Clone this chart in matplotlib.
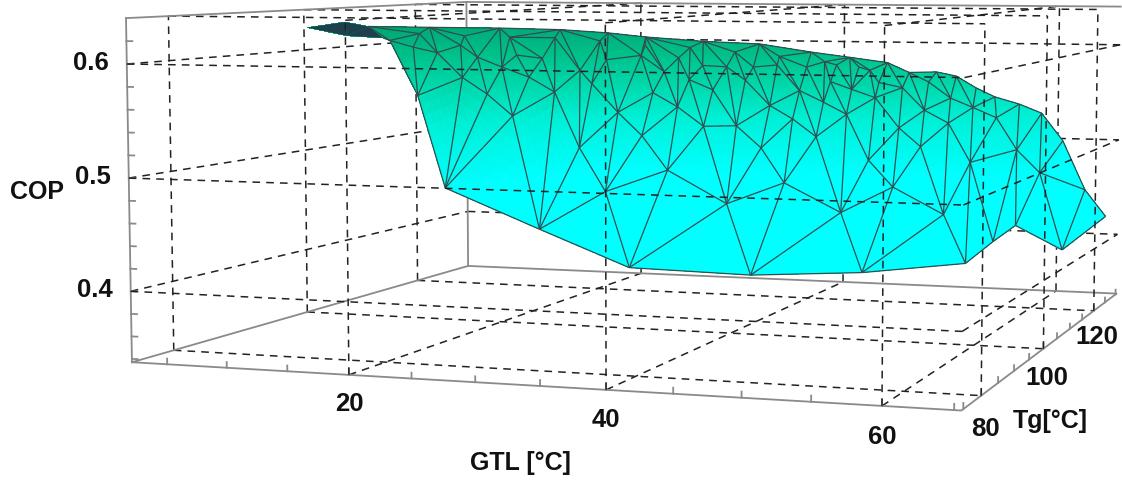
import numpy as np
import matplotlib
matplotlib.use("Agg")
import matplotlib.pyplot as plt
from matplotlib.colors import LinearSegmentedColormap
from matplotlib.path import Path
from matplotlib.tri import Triangulation
from mpl_toolkits.mplot3d import proj3d
from mpl_toolkits.mplot3d.art3d import Line3DCollection

plt.rcParams['font.family'] = ['Liberation Sans', 'DejaVu Sans']

gtl_lim = (2, 65.5)
tg_lim = (74.5, 130.5)
cop_lim = (0.337, 0.64)
gtl_major = [20, 40, 60]
tg_major = [80, 100, 120]
cop_major = [0.4, 0.5, 0.6]
gtl_minor = [5, 10, 15, 20, 25, 30, 35, 40, 45, 50, 55, 60, 65]
tg_minor = [75, 80, 85, 90, 95, 100, 105, 110, 115, 120, 125, 130]
cop_minor = [0.34, 0.36, 0.38, 0.40, 0.42, 0.44, 0.46, 0.48, 0.50, 0.52, 0.54, 0.56, 0.58, 0.60, 0.62]

# mesh corners: front edge (10), back edge (22), then the inside
gtl = [25.0, 32.5, 39.5, 48.7, 56.9, 64.3, 65.0, 64.8, 64.8, 65.3,
       4.6, 4.3, 4.2, 4.4, 8.1, 14.2, 19.0, 22.7, 28.3, 33.7, 38.6, 42.2, 45.7, 47.7, 50.2, 52.0, 53.8, 55.5, 57.7, 59.7, 61.6, 63.6,
       4.3, 4.2, 4.2, 9.4, 4.3, 5.6, 10.1, 14.5, 18.9, 23.3, 27.6, 32.0, 36.2, 40.4, 44.7,
       4.3, 5.3, 6.4, 9.5, 12.8, 10.8, 14.8, 19.1, 16.1, 19.7, 12.7, 15.3, 26.7, 32.1, 21.9, 19.7, 26.3, 30.1, 34.8, 27.7, 30.9, 34.5, 37.3,
       29.9, 32.7, 34.9, 38.7, 41.5, 40.9, 45.1, 42.0, 42.9, 45.6, 44.6, 40.2, 42.2, 44.4,
       46.9, 50.6, 50.3, 51.5, 53.9, 46.2, 48.3, 50.1, 51.5, 54.3, 53.5, 58.3, 59.6, 57.2, 54.9, 52.9, 61.4, 64.3,
       21.1, 23.7, 27.3, 27.1, 30.0, 32.3, 34.7, 36.6, 39.2, 41.6, 43.6]
tg = [80, 80, 80, 80, 80, 80, 85.1, 93.0, 109.9, 125.8,
      96.0, 102.8, 107.0, 118.1, 125, 125, 125, 125, 125, 125, 125, 125, 125, 125, 125, 125, 125, 125, 125, 125, 125, 125,
      103.2, 109.7, 110.9, 106.0, 116.3, 122.7, 122.9, 123.2, 123.3, 123.4, 123.5, 123.2, 123.2, 123.3, 122.9,
      115.1, 117.8, 120.3, 117.4, 115.5, 111.7, 108.3, 104.2, 114.0, 111.4, 118.8, 118.6, 100.6, 93.2, 114.4, 116.9, 109.7, 105.7, 99.5, 114.2, 111.8, 108.5, 108.8,
      117.2, 115.6, 117.8, 113.3, 111.0, 104.7, 98.1, 93.5, 115.1, 113.0, 107.8, 116.8, 119.3, 118.4,
      117.1, 111.5, 103.7, 92.4, 98.2, 120.6, 120.7, 122.7, 116.2, 113.5, 107.7, 105.1, 91.9, 118.5, 119.5, 119.6, 108.0, 103.4,
      119.6, 121.4, 121.4, 118.4, 120.3, 120.2, 120.5, 121.4, 121.8, 123.0, 123.2]
cop = [0.493, 0.460, 0.430, 0.428, 0.434, 0.445, 0.456, 0.459, 0.413, 0.425,
       0.624, 0.627, 0.621, 0.616, 0.613, 0.612, 0.609, 0.605, 0.601, 0.599, 0.591, 0.586, 0.581, 0.571, 0.572, 0.568, 0.556, 0.547, 0.540, 0.531, 0.503, 0.453,
       0.613, 0.608, 0.605, 0.552, 0.610, 0.605, 0.604, 0.604, 0.601, 0.597, 0.595, 0.591, 0.587, 0.582, 0.574,
       0.596, 0.589, 0.596, 0.585, 0.576, 0.567, 0.553, 0.535, 0.567, 0.554, 0.587, 0.584, 0.509, 0.477, 0.561, 0.573, 0.536, 0.517, 0.491, 0.553, 0.541, 0.525, 0.526,
       0.565, 0.556, 0.565, 0.543, 0.532, 0.509, 0.484, 0.469, 0.546, 0.536, 0.518, 0.556, 0.564, 0.557,
       0.550, 0.525, 0.501, 0.466, 0.483, 0.563, 0.558, 0.563, 0.539, 0.529, 0.511, 0.500, 0.468, 0.531, 0.540, 0.549, 0.510, 0.494,
       0.583, 0.587, 0.585, 0.572, 0.578, 0.577, 0.577, 0.579, 0.577, 0.579, 0.577]
gtl, tg, cop = np.array(gtl), np.array(tg), np.array(cop)

# corner numbers round the rim of the sheet, and the dark tip at the top left
outline = list(range(10, 32)) + [9, 8, 7, 6, 5, 4, 3, 2, 1, 0, 35, 34, 33, 32]
tip = [[10, 11, 32], [11, 12, 32], [12, 33, 32]]

fig = plt.figure(figsize=(11.22, 4.83), dpi=100)
S = 1103
ax = fig.add_axes([(654 - S/2)/1122, (299 - S/2)/483, S/1122, S/483], projection='3d', computed_zorder=False)
ax.set_proj_type('persp', focal_length=0.439)
ax.view_init(elev=4.8, azim=-71)
ax.set_box_aspect((772, 772, 314))
ax.set_xlim(*gtl_lim)
ax.set_ylim(*tg_lim)
ax.set_zlim(*cop_lim)
ax.set_xticks([])
ax.set_yticks([])
ax.set_zticks([])
ax.set_axis_off()

x0, x1 = gtl_lim
y0, y1 = tg_lim
z0, z1 = cop_lim
DASH = dict(color='#222222', lw=1.1, ls=(0, (5, 4)))
EDGE = dict(color='#8a8a8a', lw=1.3)

# walls behind the surface
for z in cop_major:
    ax.plot([x0, x0], [y0, y1], [z, z], zorder=1, **DASH)
    ax.plot([x0, x1], [y1, y1], [z, z], zorder=1, **DASH)
for t in tg_major:
    ax.plot([x0, x0], [t, t], [z0, z1], zorder=1, **DASH)
    ax.plot([x0, x1], [t, t], [z0, z0], zorder=1, **DASH)
    ax.plot([x0, x1], [t, t], [z1, z1], zorder=1, **DASH)
for g in gtl_major:
    ax.plot([g, g], [y1, y1], [z0, z1], zorder=1, **DASH)
    ax.plot([g, g], [y0, y1], [z0, z0], zorder=1, **DASH)
    ax.plot([g, g], [y0, y1], [z1, z1], zorder=1, **DASH)

# box and ticks
ax.plot([x0, x1, x1, x0, x0], [y0, y0, y1, y1, y0], [z0]*5, zorder=2, **EDGE)
ax.plot([x0, x0], [y0, y0], [z0, z1], zorder=2, **EDGE)
ax.plot([x0, x0], [y1, y1], [z0, z1], zorder=2, **EDGE)
ax.plot([x0, x0, x1], [y0, y1, y1], [z1, z1, z1], zorder=2, **EDGE)
for g in gtl_minor:
    ax.plot([g, g], [y0, y0], [z0, z0 + 0.005], zorder=2, **EDGE)
for t in tg_minor:
    ax.plot([x1, x1], [t, t], [z0, z0 + 0.005], zorder=2, **EDGE)
for z in cop_minor:
    ax.plot([x0, x0 + 0.5], [y0, y0], [z, z], zorder=2, **EDGE)

# triangles as they look on screen, stretched so long upright ones win
fig.canvas.draw()
sx, sy, _ = proj3d.proj_transform(gtl, tg, cop, ax.get_proj())
mesh = Triangulation(sx, sy * 0.5)
tris = mesh.triangles
rim = Path(np.column_stack([sx[outline], sy[outline]]))
tris = tris[rim.contains_points(np.column_stack([sx[tris].mean(axis=1), sy[tris].mean(axis=1)]))]

# cut each triangle smaller so the colour runs smoothly
px, py, pz = gtl, tg, cop
fine = tris
for _ in range(3):
    nx, ny, nz, nt = [], [], [], []
    for a, b, c in fine:
        n = len(nx)
        for i, j in [(a, a), (b, b), (c, c), (a, b), (b, c), (c, a)]:
            nx.append((px[i] + px[j]) / 2)
            ny.append((py[i] + py[j]) / 2)
            nz.append((pz[i] + pz[j]) / 2)
        nt += [[n, n+3, n+5], [n+3, n+1, n+4], [n+5, n+4, n+2], [n+3, n+4, n+5]]
    px, py, pz, fine = np.array(nx), np.array(ny), np.array(nz), np.array(nt)

ramp = LinearSegmentedColormap.from_list('cop', [
    (0.0, '#00ffff'), (0.31, '#00f0d7'), (0.54, '#00d7aa'), (0.77, '#00be87'), (1.0, '#00a573')])
ax.plot_trisurf(px, py, pz, triangles=fine, cmap=ramp, vmin=0.49, vmax=0.62,
                linewidth=0, antialiased=False, shade=False, zorder=3)
ax.plot_trisurf(gtl, tg, cop, triangles=tip, color='#1f3f4d', linewidth=0, shade=False, zorder=3.5)

pairs = set()
for a, b, c in tris:
    for i, j in [(a, b), (b, c), (c, a)]:
        if min(i, j) in (10, 11, 12, 32) and max(i, j) in (10, 11, 12, 32, 33):
            continue
        pairs.add((min(i, j), max(i, j)))
segs = [[(gtl[i], tg[i], cop[i]), (gtl[j], tg[j], cop[j])] for i, j in pairs]
ax.add_collection3d(Line3DCollection(segs, colors='#2f4f4f', linewidths=0.9, zorder=4))

# walls in front of the surface
for z in cop_major:
    ax.plot([x0, x1], [y0, y0], [z, z], zorder=5, **DASH)
    ax.plot([x1, x1], [y0, y1], [z, z], zorder=5, **DASH)
for t in tg_major:
    ax.plot([x1, x1], [t, t], [z0, z1], zorder=5, **DASH)
for g in gtl_major:
    ax.plot([g, g], [y0, y0], [z0, z1], zorder=5, **DASH)

TXT = dict(fontsize=18.5, fontweight='bold', ha='center', va='center', color='#111111')
LBL = dict(TXT, fontsize=18)
for g in gtl_major:
    ax.text(g, y0, z0 - 0.025, str(g), **TXT)
for t in tg_major:
    ax.text(x1 + 0.3, t, z0 - 0.027, str(t), **TXT)
for z in cop_major:
    ax.text(x0 - 3.1, y0, z, '%.1f' % z, **TXT)
fig.text(37/1122, 1 - 192/483, 'COP', **LBL)
fig.text(520/1122, 1 - 463/483, 'GTL [°C]', **LBL)
fig.text(1050/1122, 1 - 421/483, 'Tg[°C]', **LBL)

fig.savefig('out.png', dpi=100)
